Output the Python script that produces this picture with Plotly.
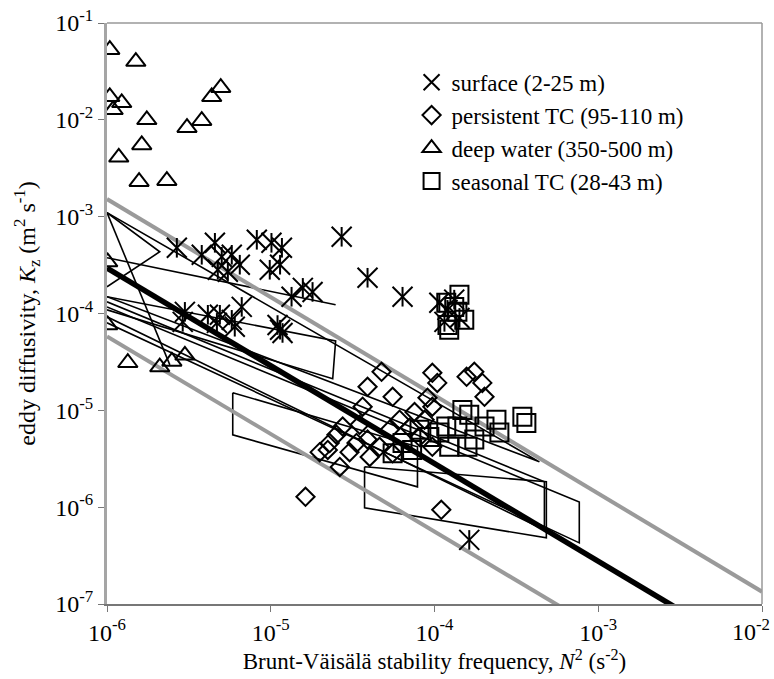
import plotly.graph_objects as go

# ---------------- data ----------------
# surface (2-25 m)
surf_n2 = [2.67e-6, 3.79e-6, 4.56e-6, 5.02e-6, 5.78e-6, 4.75e-6, 5.47e-6, 6.47e-6, 8.22e-6, 1.01e-5,
           1.17e-5, 9.86e-6, 1.14e-5, 1.34e-5, 1.57e-5, 1.80e-5, 2.71e-5, 3.90e-5, 6.38e-5, 1.63e-4,
           2.99e-6, 2.90e-6, 4.13e-6, 4.89e-6, 4.69e-6, 5.78e-6, 6.65e-6, 6.03e-6, 1.14e-5, 1.18e-5,
           1.10e-5, 1.07e-4, 1.20e-4, 1.32e-4, 1.42e-4, 1.15e-4]
surf_kz = [4.77e-4, 4.04e-4, 5.37e-4, 3.85e-4, 4.04e-4, 2.83e-4, 2.70e-4, 3.19e-4, 5.77e-4, 5.37e-4,
           4.77e-4, 2.83e-4, 3.19e-4, 1.49e-4, 1.84e-4, 1.67e-4, 6.20e-4, 2.34e-4, 1.49e-4, 4.59e-7,
           1.04e-4, 8.2e-5, 9.7e-5, 9.7e-5, 8.0e-5, 8.6e-5, 1.17e-4, 7.3e-5, 6.8e-5, 6.3e-5,
           7.6e-5, 1.29e-4, 1.09e-4, 1.39e-4, 9.0e-5, 8.2e-5]

# persistent TC (95-110 m)
pers_n2 = [1.63e-5, 1.10e-4, 4.75e-5, 3.90e-5, 3.64e-5, 5.55e-5, 9.7e-5, 1.04e-4, 1.57e-4, 1.75e-4,
           1.96e-4, 2.02e-4, 9.06e-5, 9.7e-5, 8.7e-5, 2.52e-5, 2.75e-5, 2.29e-5, 1.99e-5, 2.23e-5,
           2.64e-5, 3.03e-5, 3.49e-5, 3.34e-5, 3.90e-5, 4.02e-5, 4.62e-5, 5.32e-5, 5.55e-5, 7.05e-5,
           8.1e-5, 9.7e-5, 6.12e-5, 7.55e-5]
pers_kz = [1.28e-6, 9.4e-7, 2.50e-5, 1.75e-5, 1.09e-5, 1.38e-5, 2.44e-5, 1.92e-5, 2.22e-5, 2.50e-5,
           1.92e-5, 1.38e-5, 1.35e-5, 1.09e-5, 8.0e-6, 5.6e-6, 6.8e-6, 4.6e-6, 3.7e-6, 3.9e-6,
           2.6e-6, 3.7e-6, 7.1e-6, 4.6e-6, 5.0e-6, 3.3e-6, 4.2e-6, 6.3e-6, 3.6e-6, 6.6e-6,
           5.3e-6, 4.2e-6, 8.0e-6, 9.6e-6]

# deep water (350-500 m)
deep_n2 = [1.04e-6, 1.50e-6, 1.04e-6, 1.23e-6, 1.09e-6, 1.75e-6, 4.36e-6, 4.95e-6, 3.79e-6, 3.08e-6,
           1.63e-6, 1.18e-6, 1.57e-6, 2.32e-6, 1.01e-6, 1.01e-6, 1.34e-6, 2.10e-6, 2.49e-6, 2.99e-6]
deep_kz = [0.053, 0.040, 0.0173, 0.0150, 0.0127, 0.0100, 0.0173, 0.0215, 0.0098, 0.0083,
           0.0055, 0.0041, 0.0023, 0.00235, 3.4e-4, 7.6e-5, 3.1e-5, 2.8e-5, 3.2e-5, 3.7e-5]

# seasonal TC (28-43 m)
seas_n2 = [1.42e-4, 1.18e-4, 1.32e-4, 1.52e-4, 1.20e-4, 1.23e-4, 1.38e-4,
           1.48e-4, 1.38e-4, 1.18e-4, 1.07e-4, 1.23e-4, 8.1e-5, 7.3e-5, 6.38e-5, 5.55e-5, 1.59e-4,
           2.02e-4, 2.39e-4, 2.49e-4, 3.44e-4, 3.64e-4, 1.63e-4, 9.3e-5, 1.75e-4]
seas_kz = [1.56e-4, 1.29e-4, 1.17e-4, 8.6e-5, 7.6e-5, 6.8e-5, 1.04e-4,
           1.01e-5, 6.8e-6, 6.8e-6, 5.9e-6, 4.2e-6, 6.3e-6, 3.9e-6, 4.6e-6, 3.6e-6, 4.2e-6,
           6.8e-6, 8.0e-6, 5.9e-6, 8.6e-6, 7.4e-6, 9.0e-6, 5.3e-6, 5.0e-6]

# published Kz-N2 relations (thin outlines)
poly_n2 = [
    [1e-6, 2.10e-6, 1e-6],
    [1e-6, 2.42e-6],
    [1e-6, 2.49e-5, 2.39e-5, 1e-6],
    [5.86e-6, 7.87e-5, 7.87e-5, 5.86e-6, 5.86e-6],
    [3.74e-5, 4.82e-4, 4.82e-4, 3.74e-5, 3.74e-5],
    [1e-6, 4.69e-4, 4.69e-4, 1e-6],
    [1e-6, 7.66e-4, 7.66e-4, 1e-6],
    [1e-6, 4.37e-4, 1e-6],
    [1e-6, 2.49e-5],
]
poly_kz = [
    [1.10e-3, 4.34e-4, 1.89e-4],
    [1.10e-3, 2.95e-5],
    [1.49e-4, 5.22e-5, 2.12e-5, 1.09e-4],
    [1.52e-5, 4.20e-6, 1.62e-6, 5.58e-6, 1.52e-5],
    [2.61e-6, 1.83e-6, 4.82e-7, 9.84e-7, 2.61e-6],
    [1.32e-4, 1.83e-6, 5.83e-7, 9.25e-5],
    [1.17e-4, 1.13e-6, 4.28e-7, 8.02e-5],
    [1.10e-3, 2.94e-6, 1.49e-4],
    [3.76e-4, 1.23e-4],
]

# overall fit and factor-of-5 envelope (end points)
fit_n2 = [1e-6, 1e-2]
fit_kz = [2.95e-4, 2.7e-8]
upper_kz = [1.52e-3, 1.34e-7]
lower_kz = [5.8e-5, 5.4e-9]

tick_x = [1e-6, 1e-5, 1e-4, 1e-3, 1e-2]
tick_x_text = ["10<sup>-6</sup>", "10<sup>-5</sup>", "10<sup>-4</sup>", "10<sup>-3</sup>", "10<sup>-2</sup>"]
tick_y = [1e-7, 1e-6, 1e-5, 1e-4, 1e-3, 1e-2, 1e-1]
tick_y_text = ["10<sup>-7</sup>", "10<sup>-6</sup>", "10<sup>-5</sup>", "10<sup>-4</sup>",
               "10<sup>-3</sup>", "10<sup>-2</sup>", "10<sup>-1</sup>"]

# ---------------- figure ----------------
FONT = "Liberation Serif, Times New Roman, serif"
fig = go.Figure()

for xs, ys in zip(poly_n2, poly_kz):
    fig.add_trace(go.Scatter(x=xs, y=ys, mode="lines", line=dict(color="black", width=1.6),
                             showlegend=False, hoverinfo="skip"))

fig.add_trace(go.Scatter(x=fit_n2, y=upper_kz, mode="lines", line=dict(color="#9a9a9a", width=4),
                         showlegend=False))
fig.add_trace(go.Scatter(x=fit_n2, y=lower_kz, mode="lines", line=dict(color="#9a9a9a", width=4),
                         showlegend=False))
fig.add_trace(go.Scatter(x=fit_n2, y=fit_kz, mode="lines", line=dict(color="black", width=5.5),
                         showlegend=False))

mk_line = dict(color="black", width=2)
fig.add_trace(go.Scatter(x=surf_n2, y=surf_kz, mode="markers", name="surface (2-25 m)",
                         marker=dict(symbol="x-thin-open", size=20, color="black", line=mk_line)))
fig.add_trace(go.Scatter(x=surf_n2, y=surf_kz, mode="markers", showlegend=False,
                         marker=dict(symbol="line-ns-open", size=14, color="black", line=mk_line)))
fig.add_trace(go.Scatter(x=pers_n2, y=pers_kz, mode="markers", name="persistent TC (95-110 m)",
                         marker=dict(symbol="diamond-open", size=14, color="black", line=mk_line)))
fig.add_trace(go.Scatter(x=deep_n2, y=deep_kz, mode="markers", name="deep water (350-500 m)",
                         marker=dict(symbol="triangle-up-open", size=17, color="black", line=mk_line)))
fig.add_trace(go.Scatter(x=seas_n2, y=seas_kz, mode="markers", name="seasonal TC (28-43 m)",
                         marker=dict(symbol="square-open", size=18, color="black", line=mk_line)))

# last x tick label drawn right-aligned so that it stays inside the page
x_labels_axis = tick_x_text[:-1] + [""]

fig.update_layout(
    width=774, height=679,
    margin=dict(l=107, r=12, t=23, b=75),
    paper_bgcolor="white", plot_bgcolor="white",
    font=dict(family=FONT, size=24, color="black"),
    showlegend=True,
    legend=dict(x=0.465, y=0.935, xanchor="left", yanchor="top", bgcolor="rgba(0,0,0,0)",
                font=dict(family=FONT, size=23), tracegroupgap=0, itemwidth=30),
    xaxis=dict(type="log", range=[-6, -2], tickvals=tick_x, ticktext=x_labels_axis,
               ticks="outside", ticklen=6, tickcolor="#777", tickwidth=1.2,
               showline=True, linecolor="#777", linewidth=1.5, showgrid=False, zeroline=False,
               title=dict(text="Brunt-Väisälä stability frequency, <i>N</i><sup>2</sup> (s<sup>-2</sup>)",
                          font=dict(size=23), standoff=6),
               automargin=False),
    yaxis=dict(type="log", range=[-7, -1], tickvals=tick_y, ticktext=tick_y_text,
               ticks="outside", ticklen=6, tickcolor="#777", tickwidth=1.2,
               ticklabeloverflow="allow",
               showline=True, linecolor="#a5a5a5", linewidth=3, showgrid=False, zeroline=False,
               title=dict(text="eddy diffusivity, <i>K</i><sub>z</sub> (m<sup>2</sup> s<sup>-1</sup>)",
                          font=dict(size=24), standoff=13),
               automargin=False),
    annotations=[
        dict(x=-2, xref="x", y=0, yref="paper", text=tick_x_text[-1], showarrow=False,
             xanchor="right", yanchor="top", xshift=10, yshift=-9,
             font=dict(family=FONT, size=24, color="black")),
    ],
    shapes=[
        dict(type="line", xref="paper", yref="paper", x0=0, x1=1, y0=1, y1=1,
             line=dict(color="#999", width=1.5)),
        dict(type="line", xref="paper", yref="paper", x0=1, x1=1, y0=0, y1=1,
             line=dict(color="#999", width=1.5)),
    ],
)

fig.write_html("out.html", config={"displayModeBar": False},
               post_script="document.body.style.margin='0';document.body.style.overflow='hidden';")
